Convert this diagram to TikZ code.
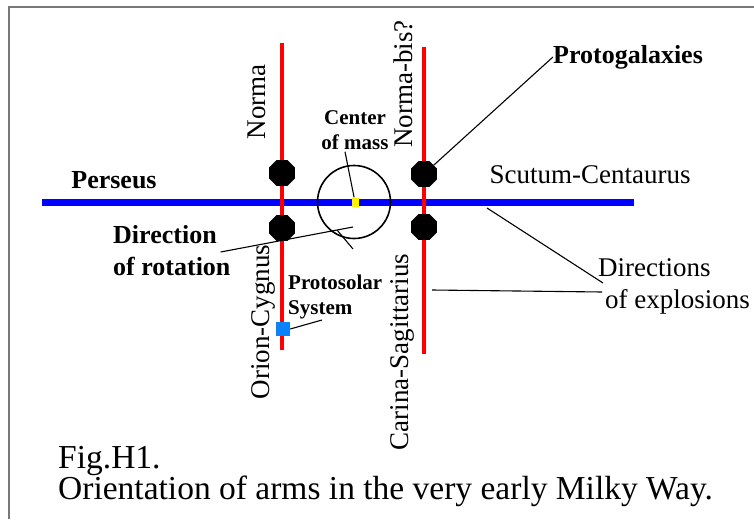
\documentclass[tikz,border=0pt]{standalone}
\usepackage{fontspec}
\setmainfont{Liberation Serif}
\usetikzlibrary{shapes.geometric}
\definecolor{sunblue}{RGB}{10,130,250}
\definecolor{framegray}{RGB}{120,120,120}

\begin{document}
\begin{tikzpicture}[x=1pt, y=-1pt,
    arm/.style={line width=4pt, red},
    disk/.style={line width=7pt, blue},
    proto/.style={regular polygon, regular polygon sides=8, fill=black,
                  minimum size=28pt, inner sep=0pt},
    lbl/.style={font=\fontsize{27}{32}\selectfont, inner sep=0pt},
    blbl/.style={font=\bfseries\fontsize{26}{32}\selectfont, inner sep=0pt},
    slbl/.style={font=\bfseries\fontsize{21}{25}\selectfont, inner sep=0pt},
    lead/.style={line width=1.1pt, black},
]
    \useasboundingbox (0,0) rectangle (754,519);
    \fill[white] (0,0) rectangle (754,519);
    \draw[framegray, line width=2.5pt] (9,519) -- (9,7) -- (754,7);

    % arms
    \draw[disk] (42,202) -- (634,202);
    \draw[arm] (282,43) -- (282,350);
    \draw[arm] (424,47) -- (424,354);

    % center of mass
    \node[circle, draw, line width=1.6pt, minimum size=73pt, inner sep=0pt] (orbit) at (354,202) {};
    \node[fill=yellow, minimum width=7pt, minimum height=9pt, inner sep=0pt] (cm) at (355,202) {};

    % protogalaxies
    \foreach \n/\x/\y in {pgL1/282/173, pgL2/282/228, pgR1/424/174, pgR2/424/227}
        \node[proto] (\n) at (\x,\y) {};
    \node[fill=sunblue, minimum size=14pt, inner sep=0pt] (sun) at (283,329) {};

    % labels
    \node[blbl] (perseus) at (114,180) {Perseus};
    \node[lbl] (scutum) at (590,175) {Scutum-Centaurus};
    \node[blbl] (protogal) at (628,57) {Protogalaxies};
    \node[slbl, align=center] (com) at (355,130) {Center\\of mass};
    \node[blbl, align=left, anchor=west] (dirrot) at (113,251) {Direction\\of rotation};
    \node[lbl, align=left, anchor=west] (direxp) at (598,286) {Directions\\\hspace*{7pt}of explosions};
    \node[slbl, align=left, anchor=west] (protosol) at (288,297) {Protosolar\\System};
    \node[lbl, rotate=90] (norma) at (257,102) {Norma};
    \node[lbl, rotate=90] (normabis) at (403,84) {Norma-bis?};
    \node[lbl, rotate=90] (orion) at (263,322) {Orion-Cygnus};
    \node[lbl, rotate=90] (carina) at (402,352) {Carina-Sagittarius};
    \node[font=\fontsize{33.5}{31}\selectfont, inner sep=0pt, align=left, anchor=west] (caption) at (58,477)
        {Fig.H1.\\Orientation of arms in the very early Milky Way.};

    % leaders
    \coordinate (rotend) at (353,227);
    \coordinate (solend) at (322,320);
    \coordinate (exp1) at (487,208);
    \coordinate (exp2) at (432,290);
    \draw[lead] ([xshift=-10pt,yshift=-2pt]com.south) -- (cm);
    \draw[lead] (protogal.west) -- (pgR1);
    \draw[lead] ([xshift=-10pt,yshift=-1pt]dirrot.east) -- (rotend);
    \draw[lead] (337,230) -- (353,249);
    \draw[lead] (sun.east) -- (solend);
    \draw[lead] ([xshift=5pt,yshift=3pt]direxp.west) -- (exp1);
    \draw[lead] ([xshift=4pt,yshift=-6pt]direxp.west) -- (exp2);
\end{tikzpicture}
\end{document}
